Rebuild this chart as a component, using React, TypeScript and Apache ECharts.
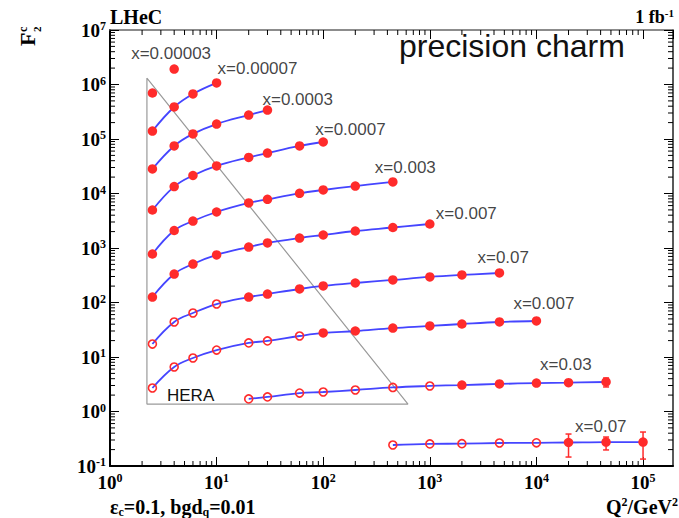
import React, { useEffect, useRef } from 'react';
import * as echarts from 'echarts';

// ---------------- data ----------------
const SERIES_NAMES = ['x=0.00003', 'x=0.00007', 'x=0.0003', 'x=0.0007', 'x=0.003', 'x=0.007', 'x=0.07', 'x=0.007', 'x=0.03', 'x=0.07'];

const Q_S0 = [2.5, 4];
const F_S0 = [6.98e5, 1.92e6];
const Q_S1 = [2.5, 4, 6, 10];
const F_S1 = [1.4e5, 3.87e5, 6.7e5, 1.07e6];
const Q_S2 = [2.5, 4, 6, 10, 20, 30];
const F_S2 = [2.82e4, 7.45e4, 1.24e5, 1.88e5, 2.75e5, 3.4e5];
const Q_S3 = [2.5, 4, 6, 10, 20, 30, 60, 100];
const F_S3 = [4980, 1.34e4, 2.14e4, 3.2e4, 4.6e4, 5.53e4, 7.45e4, 8.81e4];
const Q_S4 = [2.5, 4, 6, 10, 20, 30, 60, 100, 200, 450];
const F_S4 = [776, 2094, 3127, 4578, 6700, 7830, 1.01e4, 1.16e4, 1.37e4, 1.63e4];
const Q_S5 = [2.5, 4, 6, 10, 20, 30, 60, 100, 200, 450, 1000];
const F_S5 = [126, 333, 508, 745, 1042, 1236, 1525, 1732, 2050, 2377, 2756];
const Q_S6 = [2.5, 4, 6, 10, 20, 30, 60, 100, 200, 450, 1000, 2000, 4500];
const F_S6 = [17.3, 43.9, 64.2, 93.8, 126, 143, 177, 201, 228, 259, 294, 320, 348];
const Q_S7 = [2.5, 4, 6, 10, 20, 30, 60, 100, 200, 450, 1000, 2000, 4500, 10000];
const F_S7 = [2.7, 6.56, 9.59, 13.4, 18.1, 19.7, 24.3, 27.6, 30.0, 34.0, 37.1, 40.3, 43.9, 45.8];
const Q_S8 = [20, 30, 60, 100, 200, 450, 1000, 2000, 4500, 10000, 20000, 45000];
const F_S8 = [1.7, 1.85, 2.18, 2.28, 2.48, 2.76, 2.94, 3.06, 3.2, 3.33, 3.38, 3.48];
const Q_S9 = [450, 1000, 2000, 4500, 10000, 20000, 45000, 100000];
const F_S9 = [0.243, 0.254, 0.257, 0.264, 0.266, 0.27, 0.275, 0.275];

const Q_ALL = [Q_S0, Q_S1, Q_S2, Q_S3, Q_S4, Q_S5, Q_S6, Q_S7, Q_S8, Q_S9];
const F_ALL = [F_S0, F_S1, F_S2, F_S3, F_S4, F_S5, F_S6, F_S7, F_S8, F_S9];
// number of leading open (HERA-region) points in each series
const HOLLOW_COUNT = [0, 0, 0, 0, 0, 0, 4, 7, 7, 5];

const ERR_Q = [45000, 20000, 45000, 100000];
const ERR_LOW = [2.82, 0.146, 0.197, 0.134];
const ERR_HIGH = [4.12, 0.386, 0.34, 0.42];

// HERA kinematic triangle
const HERA_Q = [2.22, 2.22, 624, 2.22];
const HERA_F = [1.31e6, 1.37, 1.37, 1.31e6];

const X_TICK_EXP = [0, 1, 2, 3, 4, 5];
const Y_TICK_EXP = [-1, 0, 1, 2, 3, 4, 5, 6, 7];

// ---------------- style ----------------
const LABEL_OFFSETS = [[-43, -16], [1, -14], [-5, -11], [-8, -12], [-18, -14], [6, -11], [-22, -15], [-23, -17], [-66, -17], [-68, -16]];
const RED = '#ff2b2b';
const BLUE = '#4545ff';
const SERIF = 'Liberation Serif';
const SANS = 'Liberation Sans';

const X_MIN = 1;
const X_MAX = 1.91e5;
const Y_MIN = 0.1;
const Y_MAX = 1e7;

function logLabel(v: number) {
  const e = Math.log10(v);
  const r = Math.round(e);
  if (Math.abs(e - r) > 1e-6) return '';
  return '{b|10}{s|' + r + '}';
}

const richTick = {
  b: { fontFamily: SERIF, fontWeight: 'bold', fontSize: 19, color: '#000', lineHeight: 20 },
  s: { fontFamily: SERIF, fontWeight: 'bold', fontSize: 12, color: '#000', verticalAlign: 'top', lineHeight: 20 },
};

export default function App() {
  const ref = useRef<HTMLDivElement>(null);
  useEffect(() => {
    if (!ref.current) return;
    const chart = echarts.init(ref.current, null, { renderer: 'svg' });

    const minorX: number[][] = [];
    for (let k = X_TICK_EXP[0]; k <= X_TICK_EXP[X_TICK_EXP.length - 1]; k++) {
      for (let m = 2; m <= 9; m++) {
        const v = m * Math.pow(10, k);
        if (v < X_MAX) minorX.push([v, Y_MIN]);
      }
    }
    const minorY: number[][] = [];
    for (let k = Y_TICK_EXP[0]; k < Y_TICK_EXP[Y_TICK_EXP.length - 1]; k++) {
      for (let m = 2; m <= 9; m++) minorY.push([X_MIN, m * Math.pow(10, k)]);
    }

    const lineSeries = Q_ALL.map((qs, si) => ({
      type: 'line',
      name: SERIES_NAMES[si],
      smooth: 0.4,
      symbol: 'circle',
      showSymbol: true,
      showAllSymbol: true,
      silent: true,
      z: 3,
      lineStyle: si === 0 ? { opacity: 0 } : { color: BLUE, width: 1.8 },
      itemStyle: { color: RED },
      data: qs.map((q, i) => {
        const hollow = i < HOLLOW_COUNT[si];
        return {
          value: [q, F_ALL[si][i]],
          symbolSize: hollow ? 8 : 9.5,
          itemStyle: hollow
            ? { color: 'rgba(255,255,255,0)', borderColor: RED, borderWidth: 1.6 }
            : { color: RED, borderWidth: 0 },
        };
      }),
    }));

    const labelSeries = {
      type: 'scatter',
      silent: true,
      symbolSize: 1,
      z: 5,
      itemStyle: { color: 'transparent' },
      data: Q_ALL.map((qs, si) => {
        const idx = qs.length - 1;
        return {
          value: [qs[idx], F_ALL[si][idx]],
          label: {
            show: true,
            formatter: SERIES_NAMES[si],
            position: 'inside',
            align: 'left',
            verticalAlign: 'middle',
            offset: LABEL_OFFSETS[si],
            fontFamily: SANS,
            fontSize: 17,
            color: '#111',
          },
        };
      }),
    };

    const option: any = {
      animation: false,
      grid: { left: 110, top: 30, right: 6, bottom: 52 },
      xAxis: [
        {
          type: 'log', logBase: 10, min: X_MIN, max: X_MAX, interval: 1,
          axisLine: { show: true, lineStyle: { color: '#000', width: 2 } },
          axisTick: { show: true, inside: true, length: 9, lineStyle: { color: '#000', width: 1 } },
          splitLine: { show: false },
          axisLabel: { formatter: logLabel, rich: richTick, margin: 6, showMaxLabel: false },
        },
        {
          type: 'log', logBase: 10, min: X_MIN, max: X_MAX, interval: 1, position: 'top',
          axisLine: { show: true, lineStyle: { color: '#666', width: 1.5 } },
          axisTick: { show: true, inside: true, length: 9, lineStyle: { color: '#000', width: 1 } },
          splitLine: { show: false },
          axisLabel: { show: false },
        },
      ],
      yAxis: [
        {
          type: 'log', logBase: 10, min: Y_MIN, max: Y_MAX, interval: 1,
          axisLine: { show: true, lineStyle: { color: '#000', width: 2 } },
          axisTick: { show: true, inside: true, length: 9, lineStyle: { color: '#000', width: 1 } },
          splitLine: { show: false },
          axisLabel: { formatter: logLabel, rich: richTick, margin: 4 },
        },
        {
          type: 'log', logBase: 10, min: Y_MIN, max: Y_MAX, interval: 1, position: 'right',
          axisLine: { show: true, lineStyle: { color: '#222', width: 1.5 } },
          axisTick: { show: true, inside: true, length: 9, lineStyle: { color: '#000', width: 1 } },
          splitLine: { show: false },
          axisLabel: { show: false },
        },
      ],
      series: [
        {
          type: 'line',
          silent: true,
          symbol: 'none',
          z: 1,
          lineStyle: { color: '#9a9a9a', width: 1.2 },
          data: HERA_Q.map((q, i) => [q, HERA_F[i]]),
        },
        ...lineSeries,
        {
          type: 'custom',
          silent: true,
          z: 4,
          data: ERR_Q.map((q, i) => [q, ERR_LOW[i], ERR_HIGH[i]]),
          encode: { x: 0, y: [1, 2] },
          renderItem: (params: any, api: any) => {
            const a = api.coord([api.value(0), api.value(1)]);
            const b = api.coord([api.value(0), api.value(2)]);
            const st = { stroke: RED, lineWidth: 1.5 };
            return {
              type: 'group',
              children: [
                { type: 'line', shape: { x1: a[0], y1: a[1], x2: b[0], y2: b[1] }, style: st },
                { type: 'line', shape: { x1: a[0] - 3, y1: a[1], x2: a[0] + 3, y2: a[1] }, style: st },
                { type: 'line', shape: { x1: b[0] - 3, y1: b[1], x2: b[0] + 3, y2: b[1] }, style: st },
              ],
            };
          },
        },
        {
          type: 'custom',
          silent: true,
          z: 2,
          data: minorX,
          renderItem: (params: any, api: any) => {
            const cs = params.coordSys;
            const p = api.coord([api.value(0), api.value(1)]);
            const st = { stroke: '#000', lineWidth: 1 };
            return {
              type: 'group',
              children: [
                { type: 'line', shape: { x1: p[0], y1: cs.y + cs.height, x2: p[0], y2: cs.y + cs.height - 5 }, style: st },
                { type: 'line', shape: { x1: p[0], y1: cs.y, x2: p[0], y2: cs.y + 5 }, style: st },
              ],
            };
          },
        },
        {
          type: 'custom',
          silent: true,
          z: 2,
          data: minorY,
          renderItem: (params: any, api: any) => {
            const cs = params.coordSys;
            const p = api.coord([api.value(0), api.value(1)]);
            const st = { stroke: '#000', lineWidth: 1 };
            return {
              type: 'group',
              children: [
                { type: 'line', shape: { x1: cs.x, y1: p[1], x2: cs.x + 5, y2: p[1] }, style: st },
                { type: 'line', shape: { x1: cs.x + cs.width, y1: p[1], x2: cs.x + cs.width - 5, y2: p[1] }, style: st },
              ],
            };
          },
        },
        labelSeries,
      ],
      graphic: [
        {
          type: 'text', left: 110, top: 7,
          style: { text: 'LHeC', fontFamily: SERIF, fontWeight: 'bold', fontSize: 20, fill: '#000' },
        },
        {
          type: 'text', x: 674, y: 17,
          style: {
            text: '{b|1 fb}{s|-1}', align: 'right', verticalAlign: 'middle',
            rich: {
              b: { fontFamily: SERIF, fontWeight: 'bold', fontSize: 18, fill: '#000', lineHeight: 20 },
              s: { fontFamily: SERIF, fontWeight: 'bold', fontSize: 11, fill: '#000', verticalAlign: 'top', lineHeight: 20 },
            },
          },
        },
        {
          type: 'text', x: 399, y: 46,
          style: { text: 'precision charm', fontFamily: SANS, fontSize: 32, fill: '#111', verticalAlign: 'middle' },
        },
        {
          type: 'text', x: 167, y: 395,
          style: { text: 'HERA', fontFamily: SANS, fontSize: 17, fill: '#111', verticalAlign: 'middle' },
        },
        {
          type: 'text', x: 678, y: 507,
          style: {
            text: '{b|Q}{s|2}{b|/GeV}{s|2}', align: 'right', verticalAlign: 'middle',
            rich: {
              b: { fontFamily: SERIF, fontWeight: 'bold', fontSize: 20, fill: '#000', lineHeight: 22 },
              s: { fontFamily: SERIF, fontWeight: 'bold', fontSize: 12, fill: '#000', verticalAlign: 'top', lineHeight: 22 },
            },
          },
        },
        {
          type: 'text', x: 110, y: 507,
          style: {
            text: '{b|\u03b5}{u|c}{b|=0.1, bgd}{u|q}{b|=0.01}', align: 'left', verticalAlign: 'middle',
            rich: {
              b: { fontFamily: SERIF, fontWeight: 'bold', fontSize: 20, fill: '#000', lineHeight: 22 },
              u: { fontFamily: SERIF, fontWeight: 'bold', fontSize: 12, fill: '#000', verticalAlign: 'bottom', lineHeight: 22 },
            },
          },
        },
        {
          type: 'group', x: 38, y: 46, rotation: Math.PI / 2,
          children: [
            { type: 'text', x: 0, y: 0, style: { text: 'F', fontFamily: SERIF, fontWeight: 'bold', fontSize: 22, fill: '#000', verticalAlign: 'bottom' } },
            { type: 'text', x: 14, y: -9, style: { text: 'c', fontFamily: SERIF, fontWeight: 'bold', fontSize: 12, fill: '#000', verticalAlign: 'bottom' } },
            { type: 'text', x: 14, y: 4, style: { text: '2', fontFamily: SERIF, fontWeight: 'bold', fontSize: 11, fill: '#000', verticalAlign: 'bottom' } },
          ],
        },
      ],
    };

    chart.setOption(option);
    return () => chart.dispose();
  }, []);
  return <div ref={ref} style={{ position: 'absolute', left: 0, top: 0, width: 679, height: 518 }} />;
}
